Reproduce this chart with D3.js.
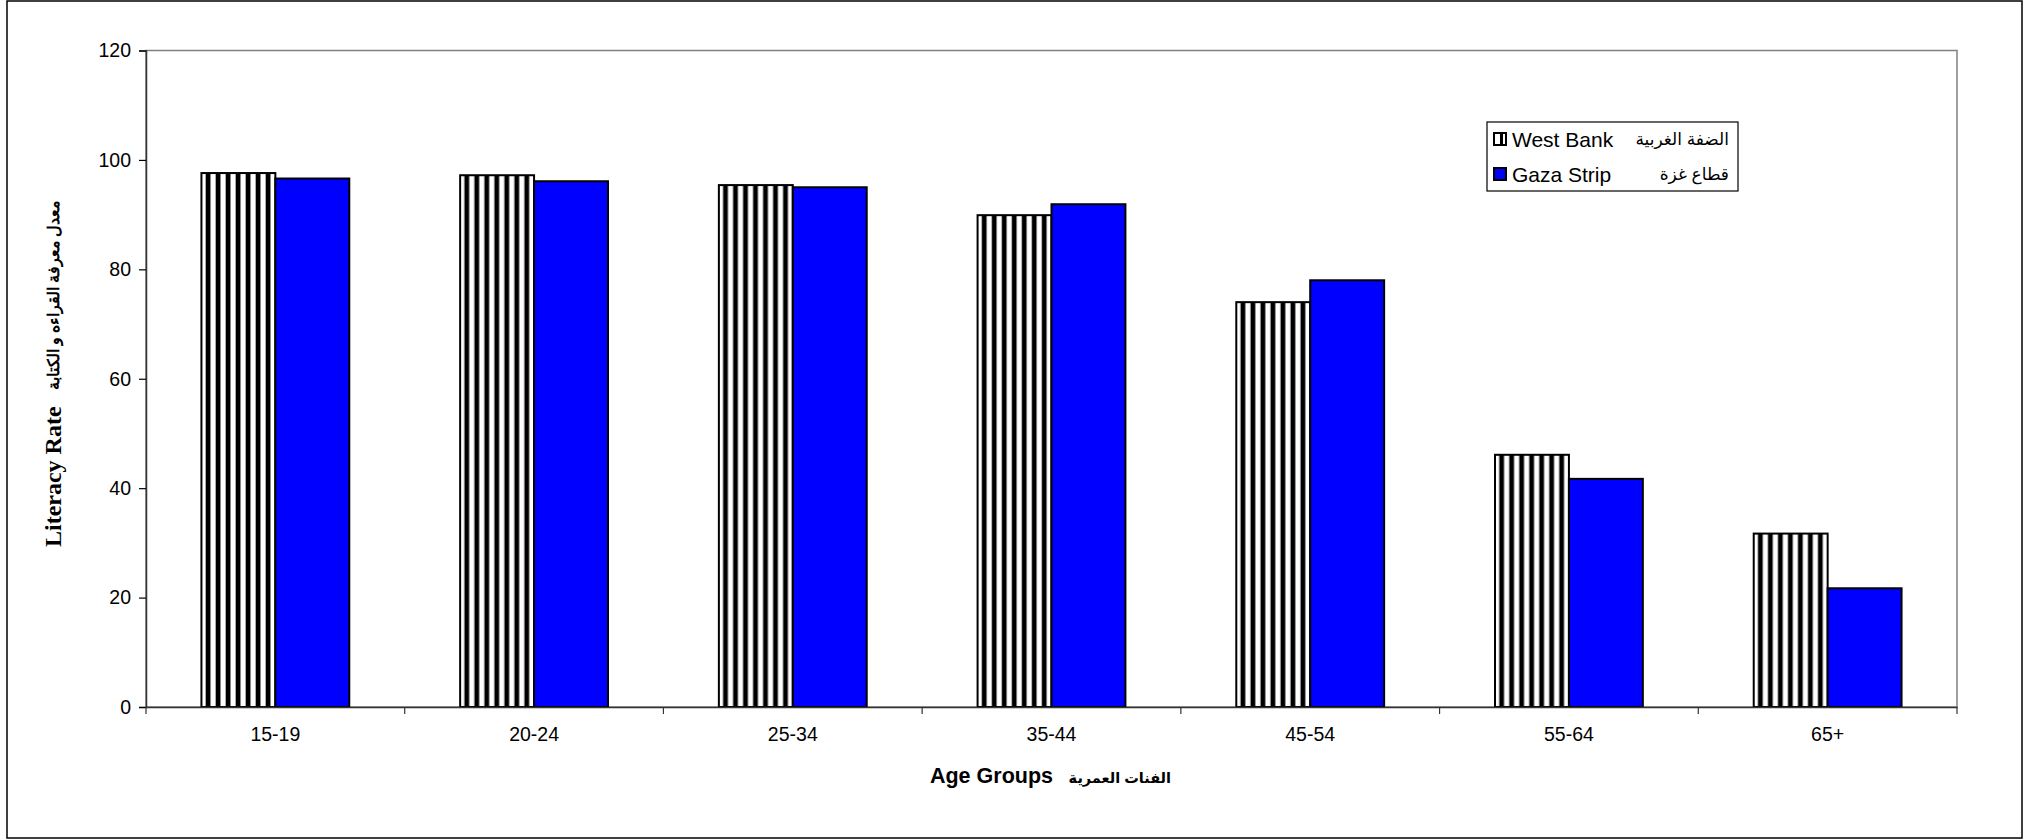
<!DOCTYPE html>
<html>
<head>
<meta charset="utf-8">
<script src="https://cdn.jsdelivr.net/npm/d3@7"></script>
<style>
  html, body { margin: 0; padding: 0; background: #fff; }
  svg { display: block; }
</style>
</head>
<body>
<svg id="chart" width="2038" height="840"></svg>
<script>
const categories = ["15-19", "20-24", "25-34", "35-44", "45-54", "55-64", "65+"];
const seriesNames = ["West Bank", "Gaza Strip"];
const seriesArabic = ["الضفة الغربية", "قطاع غزة"];
const westBank = [97.6, 97.2, 95.4, 89.9, 74.0, 46.1, 31.7];
const gazaStrip = [96.6, 96.1, 95.0, 91.9, 78.0, 41.7, 21.7];
const yTicks = [0, 20, 40, 60, 80, 100, 120];
const xTitle = "Age Groups";
const xTitleAr = "الفنات العمرية";
const yTitle = "Literacy Rate";
const yTitleAr = "معدل معرفة القراءه و الكتابة";

const svg = d3.select("#chart");
const plot = { left: 146, right: 1957, top: 50.5, bottom: 707 };
const sans = "Liberation Sans, Arial, DejaVu Sans, sans-serif";
const serif = "Liberation Serif, Times New Roman, DejaVu Serif, serif";

// pattern for West Bank
const defs = svg.append("defs");
const pat = defs.append("pattern").attr("id", "stripes")
  .attr("patternUnits", "userSpaceOnUse").attr("width", 10).attr("height", 10);
pat.append("rect").attr("width", 10).attr("height", 10).attr("fill", "#fff");
pat.append("rect").attr("x", 0).attr("width", 4).attr("height", 10).attr("fill", "#000");
pat.append("rect").attr("x", 4).attr("width", 1).attr("height", 10).attr("fill", "#888");
pat.append("rect").attr("x", 9).attr("width", 1).attr("height", 10).attr("fill", "#aaa");

// outer border
svg.append("rect").attr("x", 7).attr("y", 1).attr("width", 2015).attr("height", 837)
  .attr("fill", "#fff").attr("stroke", "#000").attr("stroke-width", 1.5);

const x = d3.scaleBand().domain(categories).range([plot.left, plot.right]).padding(0);
const xs = d3.scaleBand().domain(seriesNames).range([0, x.bandwidth()])
  .paddingInner(0).paddingOuter(0.75);
const y = d3.scaleLinear().domain([0, 120]).range([plot.bottom, plot.top]);

// plot area border (gray top/right)
svg.append("rect").attr("x", plot.left).attr("y", plot.top)
  .attr("width", plot.right - plot.left).attr("height", plot.bottom - plot.top)
  .attr("fill", "none").attr("stroke", "#808080").attr("stroke-width", 1.5);

const data = categories.map((c, i) => ({ cat: c, vals: [westBank[i], gazaStrip[i]] }));
const fills = ["url(#stripes)", "#0000FF"];

const groups = svg.append("g").selectAll("g").data(data).join("g")
  .attr("transform", d => `translate(${x(d.cat)},0)`);
groups.selectAll("rect").data(d => d.vals.map((v, j) => ({ v, j })))
  .join("rect")
  .attr("x", d => xs(seriesNames[d.j]))
  .attr("y", d => y(d.v))
  .attr("width", xs.bandwidth())
  .attr("height", d => y(0) - y(d.v))
  .attr("fill", d => fills[d.j])
  .attr("stroke", "#000").attr("stroke-width", 2);

// y axis
const yAxis = d3.axisLeft(y).tickValues(yTicks).tickSize(7).tickPadding(8);
const gy = svg.append("g").attr("transform", `translate(${plot.left},0)`).call(yAxis);
gy.select(".domain").attr("stroke", "#333").attr("stroke-width", 1.5);
gy.selectAll(".tick line").attr("stroke", "#000").attr("stroke-width", 1.2);
gy.selectAll("text").attr("font-family", sans).attr("font-size", 19.5).attr("fill", "#000");

// x axis
const xAxis = d3.axisBottom(x).tickSize(0).tickPadding(20);
const gx = svg.append("g").attr("transform", `translate(0,${plot.bottom})`).call(xAxis);
gx.select(".domain").attr("stroke", "#333").attr("stroke-width", 1.5);
gx.selectAll("text").attr("font-family", sans).attr("font-size", 19.5).attr("fill", "#000");
const bounds = categories.map(c => x(c)).concat([x(categories[categories.length - 1]) + x.step()]);
gx.selectAll(".btick").data(bounds).join("line").attr("class", "btick")
  .attr("x1", d => d).attr("x2", d => d).attr("y1", 0).attr("y2", 7)
  .attr("stroke", "#333").attr("stroke-width", 1.2);

// x title
svg.append("text").attr("x", 1053).attr("y", 783).attr("text-anchor", "end")
  .attr("font-family", sans).attr("font-weight", "bold").attr("font-size", 21.5).text(xTitle);
svg.append("text").attr("x", 1171).attr("y", 783).attr("text-anchor", "end")
  .attr("font-family", sans).attr("font-weight", "bold").attr("font-size", 14.5).text(xTitleAr);

// y title
svg.append("text").attr("transform", "translate(61,547) rotate(-90)")
  .attr("text-anchor", "start")
  .attr("font-family", serif).attr("font-weight", "bold").attr("font-size", 24).text(yTitle);
svg.append("text").attr("transform", "translate(59,390) rotate(-90)")
  .attr("text-anchor", "start")
  .attr("font-family", serif).attr("font-weight", "bold").attr("font-size", 15.5).text(yTitleAr);

// legend
const lg = svg.append("g");
lg.append("rect").attr("x", 1487).attr("y", 122).attr("width", 251).attr("height", 69)
  .attr("fill", "#fff").attr("stroke", "#000").attr("stroke-width", 1.2);
const rowY = [139, 174];
seriesNames.forEach((s, i) => {
  lg.append("rect").attr("x", 1494).attr("y", rowY[i] - 6).attr("width", 12).attr("height", 12)
    .attr("fill", i === 0 ? "#fff" : "#0000FF").attr("stroke", "#000").attr("stroke-width", 2);
  if (i === 0) {
    lg.append("rect").attr("x", 1500).attr("y", rowY[i] - 6).attr("width", 3).attr("height", 12)
      .attr("fill", "#000");
  }
  lg.append("text").attr("x", 1512).attr("y", rowY[i]).attr("dy", "0.36em")
    .attr("font-family", sans).attr("font-size", 21).text(s);
  lg.append("text").attr("x", 1729).attr("y", rowY[i]).attr("dy", "0.36em")
    .attr("text-anchor", "end")
    .attr("font-family", sans).attr("font-size", 17).text(seriesArabic[i]);
});
</script>
</body>
</html>
